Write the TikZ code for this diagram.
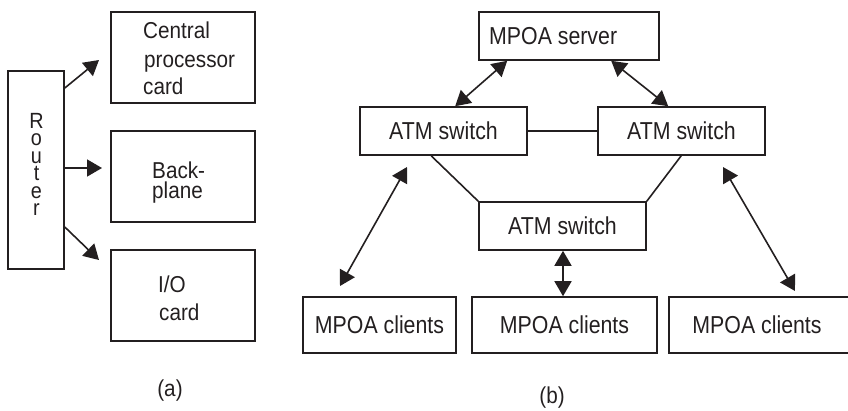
\documentclass[tikz,border=0pt]{standalone}
\usepackage{fontspec}
\setmainfont{Liberation Sans}
\newfontfamily\figfont{Liberation Sans}[FakeStretch=0.87]
\newfontfamily\figfontL{Liberation Sans}[FakeStretch=0.9]
\usetikzlibrary{arrows.meta}
\definecolor{ink}{RGB}{35,31,32}
\tikzset{
  box/.style={draw=ink, line width=1.6pt, rectangle, inner sep=0pt, text=ink},
  lbl/.style={inner sep=0pt, text=ink, font=\figfont\fontsize{24.5}{28}\selectfont},
  lblL/.style={inner sep=0pt, text=ink, anchor=base west, font=\figfontL\fontsize{23}{27}\selectfont},
  link/.style={draw=ink, line width=1.6pt},
  bighead/.tip={Triangle[length=15pt,width=17pt]},
  dbl/.style={link, bighead-bighead},
  one/.style={link, -bighead}
}
\begin{document}
\begin{tikzpicture}[x=1pt, y=-1pt]
\useasboundingbox (0,0) rectangle (848,410);

% ---- (a) router internals ----
\node[box, minimum width=56pt, minimum height=198pt] (router) at (36,170) {};
\node[lbl, align=center, font=\figfontL\fontsize{22}{17.4}\selectfont] (routertext) at (36.5,164.5) {R\\o\\u\\t\\e\\r};

\node[box, minimum width=144pt, minimum height=91pt] (cpu) at (183,57.5) {};
\node[box, minimum width=144pt, minimum height=91pt] (bp) at (183,176.5) {};
\node[box, minimum width=144pt, minimum height=91pt] (io) at (183,295.5) {};

\node[lblL] (cpu1) at (143,38) {Central};
\node[lblL] (cpu2) at (144,67) {processor};
\node[lblL] (cpu3) at (143,94) {card};
\node[lblL] (bp1) at (152,178) {Back-};
\node[lblL] (bp2) at (152,198) {plane};
\node[lblL] (io1) at (158,292) {I/O};
\node[lblL] (io2) at (159,320) {card};

\coordinate (tcpu) at (99,60);
\coordinate (tbp) at (102,168);
\coordinate (tio) at (99,260);
\draw[one] (router.east |- 0,88) -- (tcpu);
\draw[one] (router.east |- 0,168) -- (tbp);
\draw[one] (router.east |- 0,227) -- (tio);

\node[lbl, font=\figfontL\fontsize{23}{27}\selectfont] (capa) at (170,391) {(a)};

% ---- (b) MPOA network ----
\node[box, minimum width=180pt, minimum height=48pt] (server) at (569,36) {};
\node[lbl, anchor=west] (servertext) at (489,36) {MPOA server};

\node[box, lbl, minimum width=167pt, minimum height=48pt] (atmL) at (443.5,131) {ATM switch};
\node[box, lbl, minimum width=167pt, minimum height=48pt] (atmR) at (681.5,131) {ATM switch};
\node[box, lbl, minimum width=167pt, minimum height=48pt] (atmB) at (562.5,226) {ATM switch};

\node[box, lbl, minimum width=153pt, minimum height=56pt] (cl1) at (379.5,325) {MPOA clients};
\node[box, lbl, minimum width=185pt, minimum height=56pt] (cl2) at (564.5,325) {MPOA clients};
\node[box, minimum width=195pt, minimum height=56pt] (cl3) at (766.5,325) {};
\node[lbl] (cl3text) at (757,325) {MPOA clients};

% switch-to-switch trunks
\draw[link] (atmL.east) -- (atmR.west);
\draw[link] ([xshift=72pt]atmL.south west) -- (atmB.north west);
\draw[link] ([xshift=84pt]atmR.south west) -- (atmB.north east);

% server links
\draw[dbl] ([xshift=29pt]server.south west) -- ([xshift=96pt]atmL.north west);
\draw[dbl] ([xshift=133pt]server.south west) -- ([xshift=71pt]atmR.north west);

% client links
\coordinate (l1a) at (407,167);
\coordinate (l1b) at (340,286);
\coordinate (l3a) at (723,167);
\coordinate (l3b) at (795,291);
\draw[dbl] (l1a) -- (l1b);
\draw[dbl] (atmB.south) ++(0.5,0) coordinate (mtop) (mtop) -- (mtop |- cl2.north);
\draw[dbl] (l3a) -- (l3b);

\node[lbl, font=\figfontL\fontsize{23}{27}\selectfont] (capb) at (552,398) {(b)};
\end{tikzpicture}
\end{document}
